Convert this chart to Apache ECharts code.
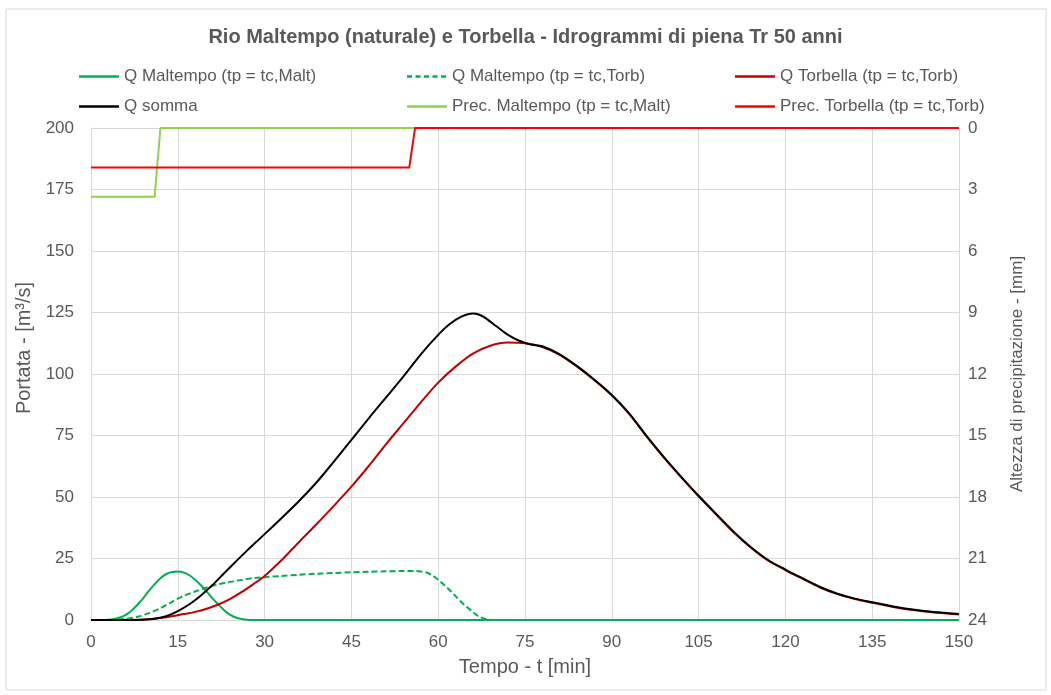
<!DOCTYPE html>
<html>
<head>
<meta charset="utf-8">
<script src="https://cdn.jsdelivr.net/npm/echarts@6/dist/echarts.min.js"></script>
<style>
  html, body { margin: 0; padding: 0; background: #fff; }
  #chart { width: 1051px; height: 695px; }
</style>
</head>
<body>
<div id="chart"></div>
<script>
// tempi [min] e portate [m3/s]
const tMalt = [0, 1, 2, 3, 4, 5, 6, 7, 8, 9, 10, 11, 12, 13, 14, 15, 16, 17, 18, 19, 20, 21, 22, 23, 24, 25, 26, 27, 28, 150];
const qMalt = [0, 0, 0, 0.1, 0.4, 1.0, 2.1, 3.8, 6.1, 8.8, 11.8, 14.6, 17.0, 18.7, 19.5, 19.7, 19.3, 18.2, 16.4, 14.1, 11.5, 8.8, 6.3, 4.0, 2.2, 1.0, 0.4, 0.1, 0, 0];

const tMaltTorb = [0, 2, 4, 6, 8, 10, 12, 14, 16, 18, 20, 22, 24, 26, 28, 30, 33, 36, 39, 42, 45, 48, 51, 54, 56, 57, 58, 59, 60, 61, 62, 63, 64, 65, 66, 67, 68, 69, 70, 150];
const qMaltTorb = [0, 0, 0.1, 0.5, 1.3, 2.8, 4.8, 7.4, 9.8, 11.6, 13.2, 14.5, 15.5, 16.3, 17.0, 17.4, 17.9, 18.4, 18.8, 19.1, 19.4, 19.6, 19.8, 19.9, 19.9, 19.7, 19.3, 18.1, 16.4, 14.3, 12.1, 9.7, 7.3, 5.2, 3.2, 1.5, 0.5, 0.1, 0, 0];

const tTorb = [0, 6, 8, 10, 12, 14, 16, 18, 20, 22, 24, 26, 28, 30, 33, 36, 39, 42, 45, 48, 51, 54, 57, 60, 63, 66, 69, 72, 75, 78, 81, 84, 87, 90, 93, 96, 99, 102, 105, 108, 111, 114, 117, 120, 123, 126, 129, 132, 135, 138, 141, 144, 147, 150];
const qTorb = [0, 0, 0.1, 0.3, 0.8, 1.5, 2.4, 3.3, 4.6, 6.3, 8.5, 11.3, 14.5, 17.9, 24.5, 31.8, 39.0, 46.5, 54.2, 62.6, 71.5, 80.0, 88.5, 96.5, 103.0, 108.3, 111.5, 112.8, 112.5, 111.0, 107.8, 103.0, 97.5, 91.3, 83.8, 74.6, 66.0, 58.0, 50.3, 43.0, 35.8, 29.5, 24.2, 20.3, 16.7, 13.2, 10.5, 8.5, 7.0, 5.6, 4.4, 3.5, 2.8, 2.2];

const tSomma = [0, 6, 9, 11, 13, 15, 17, 19, 21, 23, 25, 27, 30, 33, 36, 39, 42, 45, 48, 51, 54, 57, 60, 62, 64, 66, 67, 68, 70, 72, 74, 76, 78, 81, 84, 87, 90, 93, 96, 99, 102, 105, 108, 111, 114, 117, 120, 123, 126, 129, 132, 135, 138, 141, 144, 147, 150];
const qSomma = [0, 0, 0.1, 0.5, 1.5, 3.6, 6.4, 10.0, 14.2, 19.0, 23.7, 28.3, 34.9, 41.6, 48.5, 56.0, 64.5, 73.2, 82.0, 90.5, 99.0, 108.0, 115.9, 120.3, 123.3, 124.6, 124.2, 123.0, 119.5, 116.0, 113.5, 112.0, 111.3, 108.0, 103.2, 97.7, 91.5, 84.0, 74.8, 66.2, 58.2, 50.5, 43.2, 36.0, 29.7, 24.4, 20.5, 16.9, 13.4, 10.7, 8.7, 7.2, 5.8, 4.6, 3.7, 3.0, 2.4];

// precipitazioni [mm] (asse destro, invertito)
const tPrecMalt = [0, 11, 12, 150];
const hPrecMalt = [3.35, 3.35, 0, 0];
const tPrecTorb = [0, 55, 56, 150];
const hPrecTorb = [1.93, 1.93, 0, 0];

const names = [
  'Q Maltempo (tp = tc,Malt)',
  'Q Maltempo (tp = tc,Torb)',
  'Q Torbella (tp = tc,Torb)',
  'Q somma',
  'Prec. Maltempo (tp = tc,Malt)',
  'Prec. Torbella (tp = tc,Torb)'
];

const pairs = (t, v) => t.map((x, i) => [x, v[i]]);

const font = 'Liberation Sans, Arial, sans-serif';
const grey = '#595959';
const gridCol = '#d9d9d9';

const legendPos = [
  [74, 63], [402, 63], [730, 63],
  [74, 93], [402, 93], [730, 93]
];
const solidIcon = 'path://M0,0h40v2.5h-40z';
const dashIcon = 'path://M0,0h5v2.5h-5z M8.5,0h5v2.5h-5z M17,0h5v2.5h-5z M25.5,0h5v2.5h-5z M34,0h5v2.5h-5z M39.9,0h0.1v2.5h-0.1z';

const chart = echarts.init(document.getElementById('chart'));

const lineSeries = (name, data, color, opts = {}) => ({
  name,
  type: 'line',
  data,
  yAxisIndex: opts.yAxisIndex || 0,
  showSymbol: false,
  symbol: 'none',
  smooth: opts.smooth || false,
  animation: false,
  lineStyle: { color, width: 2, type: opts.dashed ? [6, 3] : 'solid' },
  itemStyle: { color },
  z: opts.z || 2
});

chart.setOption({
  animation: false,
  textStyle: { fontFamily: font },
  title: {
    text: 'Rio Maltempo (naturale) e Torbella - Idrogrammi di piena Tr 50 anni',
    left: 'center',
    top: 22,
    textStyle: { fontFamily: font, fontSize: 20, fontWeight: 'bold', color: grey }
  },
  legend: names.map((n, i) => ({
    data: [{ name: n, icon: i === 1 ? dashIcon : solidIcon }],
    left: legendPos[i][0],
    top: legendPos[i][1],
    itemWidth: 40,
    itemHeight: 3,
    selectedMode: false,
    textStyle: { fontFamily: font, fontSize: 17, color: grey }
  })),
  graphic: [{
    type: 'rect',
    shape: { x: 6, y: 9, width: 1040, height: 681 },
    style: { fill: 'none', stroke: gridCol, lineWidth: 1 },
    silent: true
  }],
  grid: { left: 91, right: 92, top: 128, bottom: 75 },
  xAxis: {
    type: 'value',
    min: 0,
    max: 150,
    interval: 15,
    name: 'Tempo - t [min]',
    nameLocation: 'middle',
    nameGap: 37,
    nameTextStyle: { fontFamily: font, fontSize: 20, color: grey },
    axisLine: { show: true, lineStyle: { color: gridCol } },
    axisTick: { show: false },
    axisLabel: { fontFamily: font, fontSize: 17, color: grey, margin: 14 },
    splitLine: { show: true, lineStyle: { color: gridCol, width: 1 } }
  },
  yAxis: [
    {
      type: 'value',
      min: 0,
      max: 200,
      interval: 25,
      name: 'Portata - [m³/s]',
      nameLocation: 'middle',
      nameGap: 52,
      nameTextStyle: { fontFamily: font, fontSize: 20, color: grey, padding: [0, 0, 0, 52] },
      axisLine: { show: true, lineStyle: { color: gridCol } },
      axisTick: { show: false },
      axisLabel: { fontFamily: font, fontSize: 17, color: grey, margin: 17 },
      splitLine: { show: true, lineStyle: { color: gridCol, width: 1 } }
    },
    {
      type: 'value',
      min: 0,
      max: 24,
      interval: 3,
      inverse: true,
      position: 'right',
      name: 'Altezza di precipitazione - [mm]',
      nameLocation: 'middle',
      nameGap: 50,
      nameTextStyle: { fontFamily: font, fontSize: 17, color: grey },
      axisLine: { show: true, lineStyle: { color: gridCol } },
      axisTick: { show: false },
      axisLabel: { fontFamily: font, fontSize: 17, color: grey, margin: 9 },
      splitLine: { show: false }
    }
  ],
  series: [
    lineSeries(names[0], pairs(tMalt, qMalt), '#00b050', { z: 2, smooth: 0.3 }),
    lineSeries(names[1], pairs(tMaltTorb, qMaltTorb), '#00b050', { dashed: true, z: 3, smooth: 0.3 }),
    lineSeries(names[2], pairs(tTorb, qTorb), '#c00000', { z: 4, smooth: 0.3 }),
    lineSeries(names[3], pairs(tSomma, qSomma), '#000000', { z: 5, smooth: 0.3 }),
    lineSeries(names[4], pairs(tPrecMalt, hPrecMalt), '#92d050', { yAxisIndex: 1, z: 6 }),
    lineSeries(names[5], pairs(tPrecTorb, hPrecTorb), '#ff0000', { yAxisIndex: 1, z: 7 })
  ]
});
</script>
</body>
</html>
